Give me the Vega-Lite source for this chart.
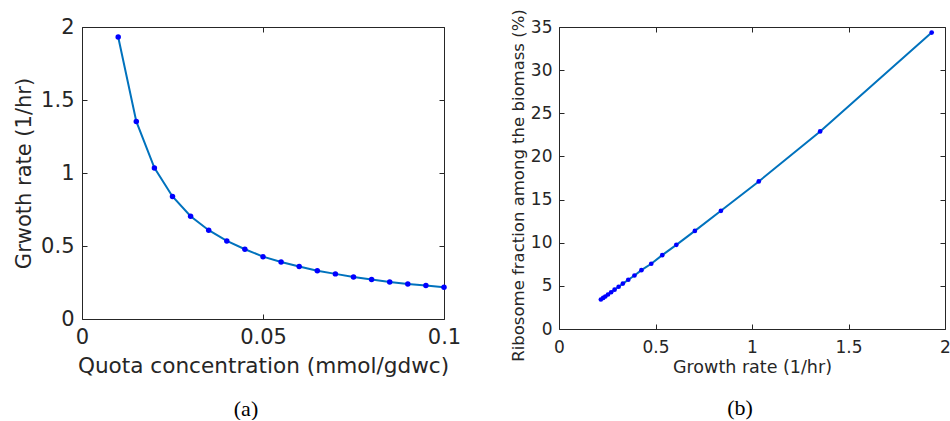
{
  "$schema": "https://vega.github.io/schema/vega-lite/v6.json",
  "padding": {"left": 13, "top": 8, "right": 0, "bottom": 0},
  "spacing": 115,
  "bounds": "flush",
  "datasets": {
    "d": [
      {"q": 0.01, "mu": 1.931, "ribo": 34.35},
      {"q": 0.015, "mu": 1.353, "ribo": 22.9},
      {"q": 0.02, "mu": 1.035, "ribo": 17.1},
      {"q": 0.025, "mu": 0.839, "ribo": 13.7},
      {"q": 0.03, "mu": 0.704, "ribo": 11.37},
      {"q": 0.035, "mu": 0.608, "ribo": 9.75},
      {"q": 0.04, "mu": 0.535, "ribo": 8.56},
      {"q": 0.045, "mu": 0.478, "ribo": 7.56},
      {"q": 0.05, "mu": 0.427, "ribo": 6.82},
      {"q": 0.055, "mu": 0.391, "ribo": 6.2},
      {"q": 0.06, "mu": 0.359, "ribo": 5.71},
      {"q": 0.065, "mu": 0.331, "ribo": 5.26},
      {"q": 0.07, "mu": 0.309, "ribo": 4.9},
      {"q": 0.075, "mu": 0.288, "ribo": 4.56},
      {"q": 0.08, "mu": 0.27, "ribo": 4.26},
      {"q": 0.085, "mu": 0.254, "ribo": 4.0},
      {"q": 0.09, "mu": 0.24, "ribo": 3.77},
      {"q": 0.095, "mu": 0.229, "ribo": 3.6},
      {"q": 0.1, "mu": 0.217, "ribo": 3.42}
    ]
  },
  "config": {
    "view": {"stroke": null},
    "font": "DejaVu Sans",
    "axis": {
      "grid": false,
      "domainColor": "#262626",
      "domainWidth": 1,
      "tickColor": "#262626",
      "tickWidth": 1,
      "tickSize": -5,
      "labelColor": "#262626",
      "titleColor": "#262626",
      "labelFont": "DejaVu Sans",
      "titleFont": "DejaVu Sans",
      "titleFontWeight": "normal",
      "labelFlush": false,
      "labelOverlap": false
    },
    "title": {"font": "Liberation Serif", "fontWeight": "normal", "color": "#000000"}
  },
  "hconcat": [
    {
      "width": 362,
      "height": 292,
      "title": {"text": "(a)", "orient": "bottom", "fontSize": 22, "offset": 22, "dx": -17},
      "data": {"name": "d"},
      "layer": [
        {
          "mark": {"type": "line", "color": "#0072BD", "strokeWidth": 2},
          "encoding": {
            "x": {"field": "q", "type": "quantitative", "scale": {"domain": [0, 0.1], "nice": false},
              "axis": {"orient": "bottom", "values": [0, 0.05, 0.1], "format": "~g", "labelFontSize": 21, "titleFontSize": 21.6, "labelPadding": 12, "titlePadding": 8, "title": "Quota concentration (mmol/gdwc)"}},
            "y": {"field": "mu", "type": "quantitative", "scale": {"domain": [0, 2], "nice": false},
              "axis": {"orient": "left", "values": [0, 0.5, 1, 1.5, 2], "format": "~g", "labelFontSize": 21, "titleFontSize": 21, "labelPadding": 13, "titlePadding": 6, "title": "Grwoth rate (1/hr)"}}
          }
        },
        {
          "mark": {"type": "point", "filled": true, "color": "#0000FF", "opacity": 1, "size": 30},
          "encoding": {
            "x": {"field": "q", "type": "quantitative", "axis": {"orient": "top", "values": [0, 0.05, 0.1], "labels": false, "title": null}},
            "y": {"field": "mu", "type": "quantitative", "axis": {"orient": "right", "values": [0, 0.5, 1, 1.5, 2], "labels": false, "title": null}}
          }
        }
      ],
      "resolve": {"axis": {"x": "independent", "y": "independent"}}
    },
    {
      "width": 386,
      "height": 302,
      "title": {"text": "(b)", "orient": "bottom", "fontSize": 22, "offset": 22, "dx": -12},
      "data": {"name": "d"},
      "layer": [
        {
          "mark": {"type": "line", "color": "#0072BD", "strokeWidth": 2},
          "encoding": {
            "x": {"field": "mu", "type": "quantitative", "scale": {"domain": [0, 2], "nice": false},
              "axis": {"orient": "bottom", "values": [0, 0.5, 1, 1.5, 2], "format": "~g", "labelFontSize": 17, "titleFontSize": 17.5, "labelPadding": 15, "titlePadding": 3, "title": "Growth rate (1/hr)"}},
            "y": {"field": "ribo", "type": "quantitative", "scale": {"domain": [0, 35], "nice": false},
              "axis": {"orient": "left", "values": [0, 5, 10, 15, 20, 25, 30, 35], "format": "~g", "labelFontSize": 17, "titleFontSize": 16.5, "labelPadding": 12, "titlePadding": 4, "titleY": 158, "title": "Ribosome fraction among the biomass (%)"}}
          }
        },
        {
          "mark": {"type": "point", "filled": true, "color": "#0000FF", "opacity": 1, "size": 22},
          "encoding": {
            "x": {"field": "mu", "type": "quantitative", "axis": {"orient": "top", "values": [0, 0.5, 1, 1.5, 2], "labels": false, "title": null}},
            "y": {"field": "ribo", "type": "quantitative", "axis": {"orient": "right", "values": [0, 5, 10, 15, 20, 25, 30, 35], "labels": false, "title": null}}
          }
        }
      ],
      "resolve": {"axis": {"x": "independent", "y": "independent"}}
    }
  ]
}
